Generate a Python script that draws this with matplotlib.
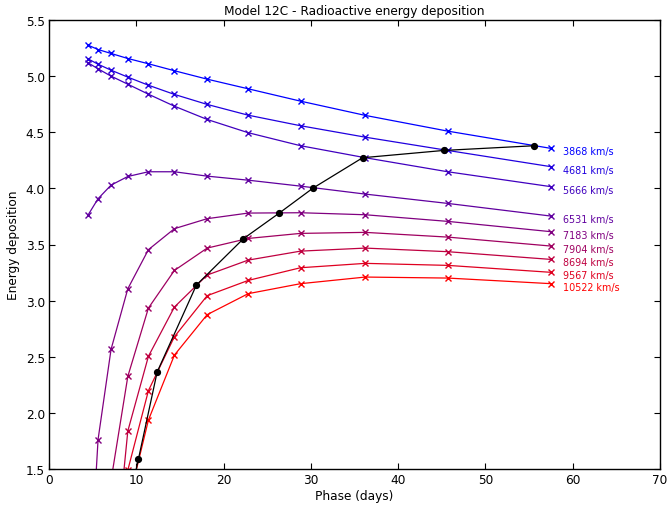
import numpy as np
import matplotlib
matplotlib.use("Agg")
import matplotlib.pyplot as plt

nan = np.nan

# Phase (days) of each model epoch
days = [4.47, 5.62, 7.11, 9.03, 11.39, 14.37, 18.12, 22.82, 28.82, 36.24, 45.68, 57.53]

velocities = [3868, 4681, 5666, 6531, 7183, 7904, 8694, 9567, 10522]

dep_3868 = [5.276, 5.237, 5.202, 5.157, 5.110, 5.048, 4.973, 4.887, 4.777, 4.650, 4.510, 4.356]
dep_4681 = [5.154, 5.106, 5.053, 4.991, 4.919, 4.837, 4.748, 4.652, 4.558, 4.456, 4.338, 4.193]
dep_5666 = [5.119, 5.065, 5.000, 4.928, 4.839, 4.732, 4.614, 4.496, 4.380, 4.273, 4.148, 4.015]
dep_6531 = [3.762, 3.908, 4.029, 4.106, 4.148, 4.148, 4.109, 4.073, 4.020, 3.949, 3.866, 3.753]
dep_7183 = [0.22, 1.762, 2.566, 3.106, 3.454, 3.641, 3.730, 3.780, 3.783, 3.765, 3.706, 3.614]
dep_7904 = [nan, nan, 1.40, 2.325, 2.934, 3.269, 3.468, 3.554, 3.599, 3.608, 3.566, 3.486]
dep_8694 = [nan, nan, 0.33, 1.838, 2.504, 2.943, 3.228, 3.361, 3.441, 3.468, 3.436, 3.367]
dep_9567 = [nan, nan, 0.80, 1.49, 2.198, 2.679, 3.044, 3.180, 3.293, 3.332, 3.314, 3.252]
dep_10522 = [nan, nan, nan, 1.18, 1.936, 2.515, 2.875, 3.062, 3.151, 3.210, 3.201, 3.151]

series = [dep_3868, dep_4681, dep_5666, dep_6531, dep_7183,
          dep_7904, dep_8694, dep_9567, dep_10522]

# Photospheric track (black line)
photo_days = [9.03, 10.24, 12.39, 16.89, 22.28, 26.38, 30.24, 35.93, 45.22, 55.62]
photo_dep = [1.16, 1.586, 2.364, 3.139, 3.552, 3.780, 4.002, 4.273, 4.338, 4.380]

x_ticks = [0, 10, 20, 30, 40, 50, 60, 70]
y_ticks = [1.5, 2.0, 2.5, 3.0, 3.5, 4.0, 4.5, 5.0, 5.5]

fs = 8.7
plt.rcParams['font.family'] = ['DejaVu Sans']

fig = plt.figure(figsize=(6.69, 5.06), dpi=100)
ax = fig.add_axes([49 / 669, 1 - 470 / 506, (660 - 49) / 669, (470 - 21) / 506])

n = len(series)
for i, (vel, vals) in enumerate(zip(velocities, series)):
    t = i / (n - 1)
    col = (t, 0.0, 1.0 - t)
    ax.plot(days, vals, '-x', color=col, lw=0.9, ms=4.5, mew=1.0)
    ax.annotate(f"{vel} km/s", xy=(days[-1], vals[-1]), xytext=(12, -3),
                textcoords='offset pixels', color=col, fontsize=6.9,
                va='center', ha='left', annotation_clip=False)

ax.plot(photo_days, photo_dep, '-o', color='black', lw=0.9, ms=4.2)

ax.set_xlim(0, 70)
ax.set_ylim(1.5, 5.5)
ax.set_xticks(x_ticks)
ax.set_xticklabels([str(v) for v in x_ticks])
ax.set_yticks(y_ticks)
ax.set_yticklabels([f"{v:.1f}" for v in y_ticks])
ax.tick_params(direction='in', length=4, width=0.8, top=True, right=True,
               labelsize=fs, pad=3)
for s in ax.spines.values():
    s.set_linewidth(1.0)

ax.set_title("Model 12C - Radioactive energy deposition", fontsize=fs, pad=4)
ax.set_xlabel("Phase (days)", fontsize=fs, labelpad=2)
ax.set_ylabel("Energy deposition", fontsize=fs, labelpad=4)

fig.savefig("out.png", dpi=100)
